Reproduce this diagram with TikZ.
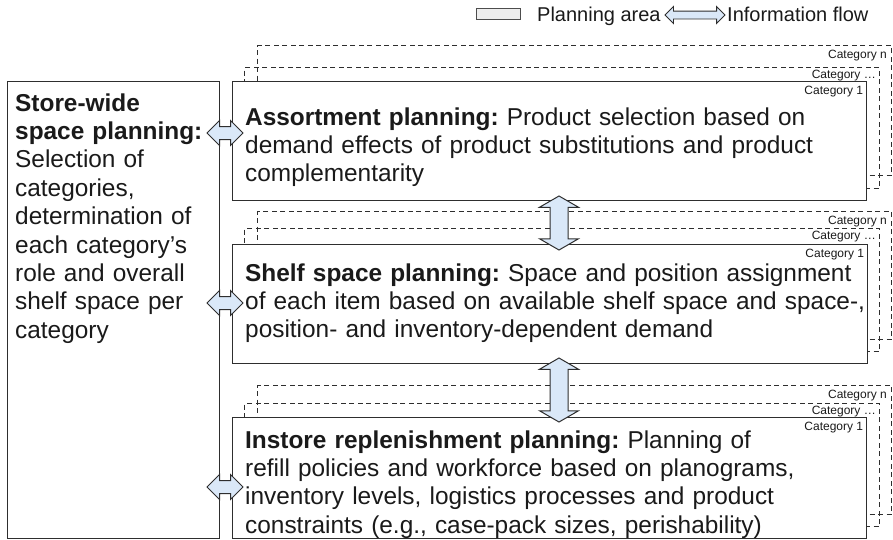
\documentclass[tikz,border=0pt]{standalone}
\usepackage{fontspec}
\setmainfont{Liberation Sans}
\usetikzlibrary{shapes.arrows,calc}
\definecolor{linec}{HTML}{2E2E2E}
\definecolor{arrowfill}{HTML}{DAE8F8}
\definecolor{legfill}{HTML}{EEEEEE}
\definecolor{txt}{HTML}{1A1A1A}
\frenchspacing
\begin{document}
\begin{tikzpicture}[x=1pt,y=-1pt,
  box/.style={draw=linec,line width=1.3pt,fill=white,inner sep=0pt,anchor=north west},
  catbox/.style={draw=linec,line width=1pt,dash pattern=on 5pt off 3.5pt,inner sep=0pt,anchor=north west},
  catlabel/.style={font=\fontsize{12}{14}\selectfont,text=txt,anchor=north east,inner sep=0pt},
  bodytext/.style={font=\fontsize{24.4}{28.4}\selectfont\frenchspacing,text=txt,anchor=base west,inner sep=0pt,align=left},
  legtext/.style={font=\fontsize{20}{24}\selectfont,text=txt,anchor=base west,inner sep=0pt},
  harrow/.style={double arrow,draw=linec,line width=1pt,fill=arrowfill,inner sep=6pt,
    double arrow head extend=6pt,minimum height=36pt,double arrow tip angle=90},
  varrow/.style={double arrow,draw=linec,line width=1pt,fill=arrowfill,inner sep=8.5pt,
    double arrow head extend=10.5pt,double arrow tip angle=120,rotate=90},
  legarrow/.style={double arrow,draw=linec,line width=0.9pt,fill=arrowfill,inner sep=3.5pt,
    double arrow head extend=4.5pt,minimum height=60pt,double arrow tip angle=90},
]
\useasboundingbox (0,0) rectangle (893,539);

% legend
\node[draw=linec!85,fill=legfill,line width=1pt,minimum width=44pt,minimum height=11pt,inner sep=0pt,anchor=north west] (legbox) at (476,8) {};
\node[legtext] (legboxtxt) at (537,21) {Planning area};
\node[legarrow] (legarr) at (695,15) {};
\node[legtext] (legarrtxt) at (727,21) {Information flow};

% left box
\node[box,minimum width=212pt,minimum height=457pt] (L) at (7,81) {};
\node[bodytext,text width=200pt] (Ltxt) at (15,111) {\textbf{Store-wide}\\\textbf{space planning:}\\Selection of\\categories,\\determination of\\each category’s\\role and overall\\shelf space per\\category};

% assortment
\node[catbox,minimum width=634pt,minimum height=130pt] (A3) at (257,45) {};
\node[catbox,minimum width=635pt,minimum height=121pt] (A2) at (244,67) {};
\node[box,minimum width=634pt,minimum height=119pt] (A) at (232,81) {};
\node[catlabel] (A3l) at ($(A3.north east)+(-5,5)$) {Category n};
\node[catlabel] (A2l) at ($(A2.north east)+(-4,3)$) {Category …};
\node[catlabel] (Al) at ($(A.north east)+(-4,5)$) {Category 1};
\node[bodytext,text width=640pt] (Atxt) at (245,125) {\textbf{Assortment planning:} Product selection based on\\demand effects of product substitutions and product\\complementarity};

% shelf
\node[catbox,minimum width=634pt,minimum height=128pt] (S3) at (257,211) {};
\node[catbox,minimum width=635pt,minimum height=123pt] (S2) at (244,228) {};
\node[box,minimum width=635pt,minimum height=119pt] (S) at (232,244) {};
\node[catlabel] (S3l) at ($(S3.north east)+(-5,5)$) {Category n};
\node[catlabel] (S2l) at ($(S2.north east)+(-4,3)$) {Category …};
\node[catlabel] (Sl) at ($(S.north east)+(-4,5)$) {Category 1};
\node[bodytext,text width=640pt] (Stxt) at (245,281) {\textbf{Shelf space planning:} Space and position assignment\\of each item based on available shelf space and space-,\\position- and inventory-dependent demand};

% instore
\node[catbox,minimum width=634pt,minimum height=129pt] (I3) at (257,385) {};
\node[catbox,minimum width=635pt,minimum height=123pt] (I2) at (244,403) {};
\node[box,minimum width=634pt,minimum height=121pt] (I) at (232,417) {};
\node[catlabel] (I3l) at ($(I3.north east)+(-5,5)$) {Category n};
\node[catlabel] (I2l) at ($(I2.north east)+(-4,3)$) {Category …};
\node[catlabel] (Il) at ($(I.north east)+(-4,5)$) {Category 1};
\node[bodytext,text width=640pt] (Itxt) at (245,448) {\textbf{Instore replenishment planning:} Planning of\\refill policies and workforce based on planograms,\\inventory levels, logistics processes and product\\constraints (e.g., case-pack sizes, perishability)};

% information flow arrows
\node[harrow] (LA) at (225,133) {};
\node[harrow] (LS) at (225,303) {};
\node[harrow] (LI) at (225,487) {};
\node[varrow,minimum height=54pt] (AS) at (559,223) {};
\node[varrow,minimum height=64pt] (SI) at (559,390) {};
\end{tikzpicture}
\end{document}
